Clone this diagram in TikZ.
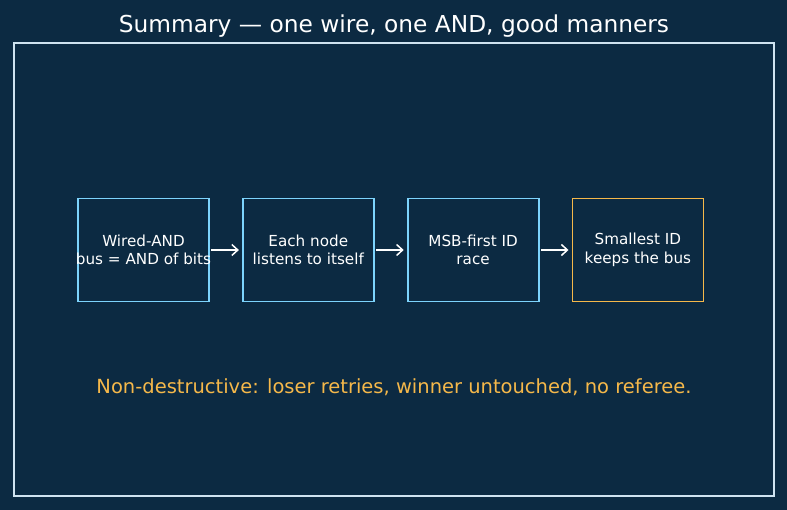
\documentclass[tikz,border=0pt]{standalone}
\usepackage{fontspec}
\setmainfont{DejaVu Sans}
\usepackage{tikz}
\usetikzlibrary{arrows.meta,positioning}
\definecolor{NightBg}{HTML}{0C2A42}
\definecolor{FrameLine}{HTML}{CFE3F0}
\definecolor{StepBlue}{HTML}{7DD3FC}
\definecolor{StepAmber}{HTML}{F5B84A}
\tikzset{
  stage/.style={draw=StepBlue, line width=1.8pt, text=white, align=center,
    minimum width=131pt, minimum height=103pt, inner xsep=-4pt, inner ysep=0pt,
    font=\fontsize{15.2}{18.5}\selectfont},
  winner/.style={stage, draw=StepAmber},
  flow/.style={-{Straight Barb[length=6pt,width=11pt]}, draw=white, line width=1.5pt,
    shorten <=1.5pt, shorten >=3pt},
  heading/.style={text=white, font=\fontsize{23.3}{27}\selectfont},
  moral/.style={text=StepAmber, font=\fontsize{19.5}{23}\selectfont}
}

\begin{document}
\begin{tikzpicture}[x=1pt, y=-1pt, node distance=32pt]
  \fill[NightBg] (0,0) rectangle (787,510);
  \useasboundingbox (0,0) rectangle (787,510);
  \draw[FrameLine, line width=1.3pt] (14,43) rectangle (774,496);
  \node[heading] (title) at (394,26.5) {Summary — one wire, one AND, good manners};
  \node[stage] (wired) at (143.5,250) {Wired-AND\\bus = AND of bits};
  \node[stage, right=of wired] (listen) {Each node\\listens to itself};
  \node[stage, right=of listen] (race) {MSB-first ID\\race};
  \node[winner, right=of race] (keep) {Smallest ID\\keeps the bus};
  \draw[flow] (wired) -- (listen);
  \draw[flow] (listen) -- (race);
  \draw[flow] (race) -- (keep);
  \node[moral] (note) at (394,387.5) {Non-destructive: loser retries, winner untouched, no referee.};
\end{tikzpicture}
\end{document}
